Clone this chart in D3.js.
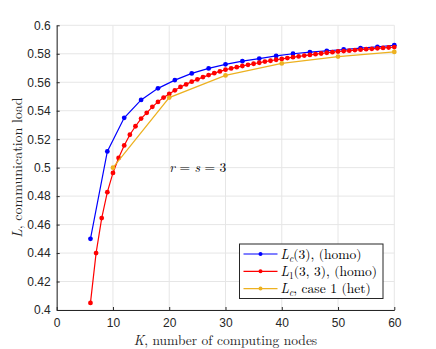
<!DOCTYPE html>
<html>
<head>
<meta charset="utf-8">
<script src="https://cdn.jsdelivr.net/npm/d3@7"></script>
<style>
  body { margin: 0; background: #fff; }
  svg { display: block; }
</style>
</head>
<body>
<svg id="chart"></svg>
<script>
// K values and loads
const kBlue = [6, 9, 12, 15, 18, 21, 24, 27, 30, 33, 36, 39, 42, 45, 48, 51, 54, 57, 60];
const lcHomo = [0.450, 0.5114, 0.535, 0.5476, 0.5557, 0.5615, 0.5662, 0.5697, 0.5726, 0.5748, 0.5766,
  0.5785, 0.580, 0.5811, 0.5821, 0.5830, 0.5839, 0.5848, 0.5860];

const kRed = d3.range(6, 61);
const l1Homo = [0.405, 0.440, 0.4646, 0.4828, 0.4963, 0.5068, 0.5156, 0.5231, 0.5291, 0.5345,
  0.5385, 0.5427, 0.5462, 0.5492, 0.5518, 0.5543, 0.5567, 0.5585, 0.5604, 0.5620,
  0.5636, 0.5650, 0.5664, 0.5676, 0.5688, 0.5697, 0.5706, 0.5714, 0.5722, 0.5730,
  0.5737, 0.5745, 0.5751, 0.5758, 0.5764, 0.5770, 0.5776, 0.5781, 0.5787, 0.5792,
  0.5797, 0.5802, 0.5807, 0.5811, 0.5816, 0.5819, 0.5822, 0.5826, 0.5829, 0.5832,
  0.5835, 0.5838, 0.5841, 0.5844, 0.5847];

const kOrange = [10, 20, 30, 40, 50, 60];
const lcHet = [0.500, 0.5492, 0.5648, 0.5732, 0.5780, 0.5813];

const xTicks = [0, 10, 20, 30, 40, 50, 60];
const yTicks = [0.4, 0.42, 0.44, 0.46, 0.48, 0.5, 0.52, 0.54, 0.56, 0.58, 0.6];

const W = 436, H = 349;
const margin = { top: 25.3, left: 56.7, right: 41.7, bottom: 39 };
const axisCol = '#262626';
const serif = '"Latin Modern Roman", "DejaVu Serif", "Liberation Serif", serif';
const sans = 'Helvetica, Arial, "Liberation Sans", sans-serif';

const svg = d3.select('#chart').attr('width', W).attr('height', H);

const x = d3.scaleLinear().domain([0, 60]).range([margin.left, W - margin.right]);
const y = d3.scaleLinear().domain([0.4, 0.6]).range([H - margin.bottom, margin.top]);

// grid
const grid = svg.append('g');
grid.selectAll('.gx').data(xTicks).enter().append('line')
  .attr('x1', d => x(d)).attr('x2', d => x(d))
  .attr('y1', y(0.4)).attr('y2', y(0.6))
  .attr('stroke', '#e6e6e6').attr('stroke-width', 1);
grid.selectAll('.gy').data(yTicks).enter().append('line')
  .attr('x1', x(0)).attr('x2', x(60))
  .attr('y1', d => y(d)).attr('y2', d => y(d))
  .attr('stroke', '#e6e6e6').attr('stroke-width', 1);

// axes
const xAxis = svg.append('g')
  .attr('transform', `translate(0,${y(0.4)})`)
  .call(d3.axisBottom(x).tickValues(xTicks).tickSizeInner(-3).tickSizeOuter(0).tickPadding(8.5));
const yAxis = svg.append('g')
  .attr('transform', `translate(${x(0)},0)`)
  .call(d3.axisLeft(y).tickValues(yTicks).tickFormat(d => d3.format('')(+d.toFixed(2))).tickSizeInner(-3).tickSizeOuter(0).tickPadding(6));

[xAxis, yAxis].forEach(a => {
  a.select('.domain').attr('stroke', axisCol).attr('stroke-width', 1);
  a.selectAll('.tick line').attr('stroke', axisCol);
  a.selectAll('.tick text').attr('fill', axisCol)
    .style('font-family', sans).style('font-size', '12px');
});

// series, drawn in legend order
const series = [
  { k: kBlue, v: lcHomo, color: '#0000ff' },
  { k: kRed, v: l1Homo, color: '#ff0000' },
  { k: kOrange, v: lcHet, color: '#edb120' }
];
const line = d3.line().x(d => x(d[0])).y(d => y(d[1]));

series.forEach(s => {
  const pts = s.k.map((k, i) => [k, s.v[i]]);
  const g = svg.append('g');
  g.append('path').datum(pts)
    .attr('d', line).attr('fill', 'none')
    .attr('stroke', s.color).attr('stroke-width', 1.2);
  g.selectAll('circle').data(pts).enter().append('circle')
    .attr('cx', d => x(d[0])).attr('cy', d => y(d[1]))
    .attr('r', 2.4).attr('fill', s.color);
});

// annotation
const ann = svg.append('text')
  .attr('x', x(20)).attr('y', y(0.5) + 4.5)
  .style('font-family', serif).style('font-size', '13.5px').attr('fill', '#000');
ann.append('tspan').style('font-style', 'italic').text('r');
ann.append('tspan').text(' = ');
ann.append('tspan').style('font-style', 'italic').text('s');
ann.append('tspan').text(' = 3');

// axis labels
const xl = svg.append('text')
  .attr('x', x(30)).attr('y', 345)
  .attr('text-anchor', 'middle')
  .style('font-family', serif).style('font-size', '13.5px').attr('fill', axisCol);
xl.append('tspan').style('font-style', 'italic').text('K');
xl.append('tspan').text(', number of computing nodes');

const yl = svg.append('text')
  .attr('transform', `translate(22,${y(0.5)}) rotate(-90)`)
  .attr('text-anchor', 'middle')
  .style('font-family', serif).style('font-size', '14px').attr('fill', axisCol);
yl.append('tspan').style('font-style', 'italic').text('L');
yl.append('tspan').text(', communication load');

// legend
const legend = svg.append('g').attr('transform', 'translate(239.5,244)');
legend.append('rect')
  .attr('width', 143.5).attr('height', 54.5)
  .attr('fill', '#fff').attr('stroke', '#262626').attr('stroke-width', 1);

const legendItems = [
  { color: '#0000ff', parts: [['L', 'i'], ['c', 'subi'], ['(3), (homo)', 'n']] },
  { color: '#ff0000', parts: [['L', 'i'], ['1', 'sub'], ['(3, 3), (homo)', 'n']] },
  { color: '#edb120', parts: [['L', 'i'], ['c', 'subi'], [', case 1 (het)', 'n']] }
];
const li = legend.selectAll('.li').data(legendItems).enter().append('g')
  .attr('transform', (d, i) => `translate(0,${10 + i * 17.3})`);
li.append('line').attr('x1', 4).attr('x2', 38)
  .attr('stroke', d => d.color).attr('stroke-width', 1.2);
li.append('circle').attr('cx', 21).attr('r', 2).attr('fill', d => d.color);
li.each(function(d) {
  const t = d3.select(this).append('text')
    .attr('x', 41).attr('y', 4.5)
    .style('font-family', serif).style('font-size', '13.5px').attr('fill', '#000');
  d.parts.forEach(p => {
    const ts = t.append('tspan').text(p[0]);
    if (p[1] === 'i') ts.style('font-style', 'italic');
    if (p[1] === 'subi' || p[1] === 'sub') {
      ts.style('font-size', '9.5px').attr('dy', 3);
      if (p[1] === 'subi') ts.style('font-style', 'italic');
    }
    if (p[1] === 'n') ts.attr('dy', -3);
  });
});
</script>
</body>
</html>
